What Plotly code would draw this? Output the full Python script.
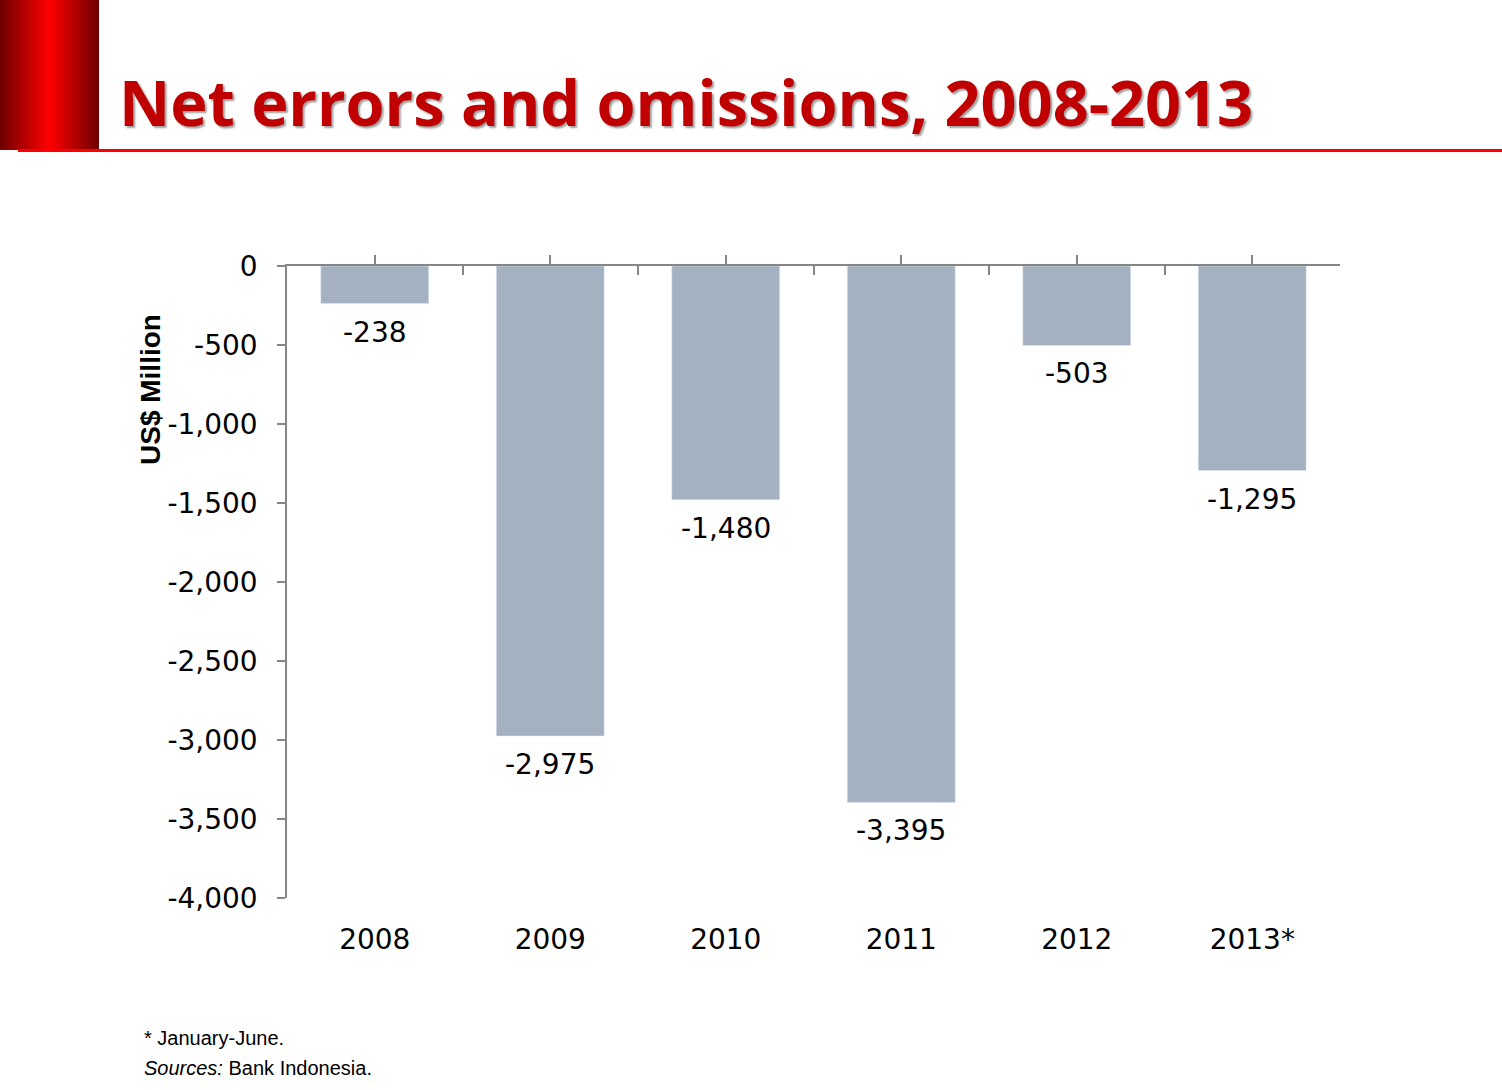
import base64
import plotly.graph_objects as go

# data
years = ["2008", "2009", "2010", "2011", "2012", "2013*"]
net_errors = [-238, -2975, -1480, -3395, -503, -1295]
bar_labels = ["-238", "-2,975", "-1,480", "-3,395", "-503", "-1,295"]
y_tick_vals = [0, -500, -1000, -1500, -2000, -2500, -3000, -3500, -4000]
y_tick_text = ["0", "-500", "-1,000", "-1,500", "-2,000", "-2,500", "-3,000", "-3,500", "-4,000"]

W, H = 1502, 1090
L, R, T, B = 287, 162, 266, 192
PW, PH = W - L - R, H - T - B


def px2x(px):
    return (px - L) / PW


def py2y(py):
    return (H - B - py) / PH


axis_grey = "#868686"
bar_col = "#A3B1C1"
tick_font = dict(family="DejaVu Sans", size=28, color="black")

fig = go.Figure()
fig.add_trace(go.Bar(x=years, y=net_errors, marker_color=bar_col, width=0.615,
                     hoverinfo="x+y", showlegend=False))

# data labels under each bar (x as category index, else "2008" is read as a number)
for i, (v, lab) in enumerate(zip(net_errors, bar_labels)):
    fig.add_annotation(x=i, y=v, text=lab, showarrow=False, yanchor="top",
                       yshift=-10, font=tick_font)

# gradient block top-left (svg image)
svg = ('<svg xmlns="http://www.w3.org/2000/svg" width="100" height="150">'
       '<defs><linearGradient id="g" x1="0" x2="1" y1="0" y2="0">'
       '<stop offset="0" stop-color="#6E0000"/><stop offset="0.5" stop-color="#FF0000"/>'
       '<stop offset="1" stop-color="#6E0000"/></linearGradient></defs>'
       '<rect width="100" height="150" fill="url(#g)"/></svg>')
src = "data:image/svg+xml;base64," + base64.b64encode(svg.encode()).decode()
fig.add_layout_image(source=src, xref="paper", yref="paper", x=px2x(0), y=py2y(0),
                     sizex=99 / PW, sizey=150 / PH, xanchor="left", yanchor="top",
                     sizing="stretch", layer="above")

# red rule under the title
fig.add_shape(type="line", xref="paper", yref="paper", x0=px2x(18), x1=px2x(1502),
              y0=py2y(150.5), y1=py2y(150.5), line=dict(color="#FF0000", width=3))

# title
fig.add_annotation(xref="paper", yref="paper", x=px2x(117), y=py2y(102),
                   xanchor="left", yanchor="middle", showarrow=False,
                   text="<b>Net errors and omissions, 2008-2013</b>",
                   font=dict(family="Open Sans", size=63, color="#C00000",
                             shadow="2px 2px 2px #A0A0A0"))

# y axis title
fig.add_annotation(xref="paper", yref="paper", x=px2x(150), y=py2y(390),
                   xanchor="center", yanchor="middle", showarrow=False, textangle=-90,
                   text="<b>US$ Million</b>",
                   font=dict(family="Liberation Sans", size=28, color="black"))

# footnotes
fn_font = dict(family="Liberation Sans", size=20, color="black")
fig.add_annotation(xref="paper", yref="paper", x=px2x(142), y=py2y(1038),
                   xanchor="left", yanchor="middle", showarrow=False,
                   text="* January-June.", font=fn_font)
fig.add_annotation(xref="paper", yref="paper", x=px2x(142), y=py2y(1068),
                   xanchor="left", yanchor="middle", showarrow=False,
                   text="<i>Sources:</i> Bank Indonesia.", font=fn_font)

fig.update_layout(
    width=W, height=H,
    margin=dict(l=L, r=R, t=T, b=B, autoexpand=False),
    paper_bgcolor="white", plot_bgcolor="white",
    xaxis=dict(type="category", range=[-0.5, 5.5], showline=False, ticks="",
               showgrid=False, tickfont=tick_font, ticklabelstandoff=22),
    xaxis2=dict(overlaying="x", anchor="y", side="top", range=[-0.5, 5.5],
                showline=True, linecolor=axis_grey, linewidth=1.5,
                tickmode="array", tickvals=[-0.5, 0.5, 1.5, 2.5, 3.5, 4.5, 5.5],
                ticks="inside", ticklen=9, tickcolor=axis_grey, tickwidth=1.5,
                showticklabels=False, showgrid=False, zeroline=False,
                minor=dict(tickmode="array", tickvals=[0, 1, 2, 3, 4, 5],
                           ticks="outside", ticklen=9, tickcolor=axis_grey,
                           tickwidth=1.5, showgrid=False)),
    yaxis=dict(range=[-4000, 0], tickmode="array", tickvals=y_tick_vals,
               ticktext=y_tick_text, ticks="outside", ticklen=8,
               tickcolor=axis_grey, tickwidth=1.5, showline=True,
               linecolor=axis_grey, linewidth=1.5, showgrid=False, zeroline=False,
               tickfont=tick_font, ticklabelstandoff=14),
)
# invisible trace to activate the top axis
fig.add_trace(go.Scatter(x=[0], y=[0], xaxis="x2", mode="markers",
                         marker=dict(opacity=0), hoverinfo="skip", showlegend=False))

# drop the default 8px body margin so the figure sits at the window corner
fig.write_html("out.html", config={"displayModeBar": False},
               post_script="document.body.style.margin='0';")
